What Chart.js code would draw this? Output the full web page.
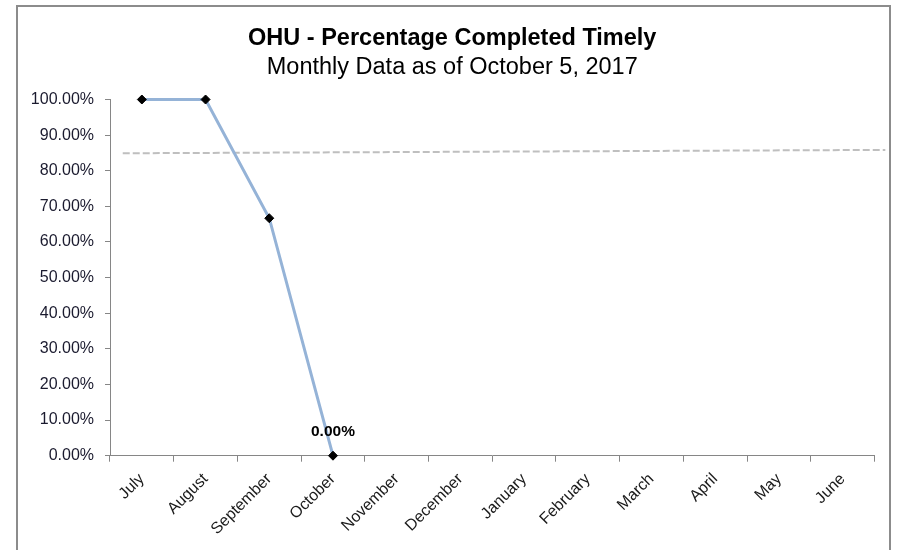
<!DOCTYPE html>
<html>
<head>
<meta charset="utf-8">
<script src="https://cdn.jsdelivr.net/npm/chart.js@4"></script>
<style>
  body { margin: 0; background: #fff; }
  #wrap { position: relative; width: 897px; height: 550px; overflow: hidden; }
  #frame { position: absolute; left: 16px; top: 5px; width: 875px; height: 620px; border: 2px solid #8c8c8c; box-sizing: border-box; }
  #chart { position: absolute; left: 0; top: 0; }
</style>
</head>
<body>
<div id="wrap">
  <div id="frame"></div>
  <canvas id="chart" width="897" height="550"></canvas>
</div>
<script>
// data
const months = ['July', 'August', 'September', 'October', 'November', 'December',
                'January', 'February', 'March', 'April', 'May', 'June'];
const pctTimely = [100, 100, 66.67, 0, null, null, null, null, null, null, null, null];
const dataLabels = ['', '', '', '0.00%', '', '', '', '', '', '', '', ''];

// target line (dashed), x in category units along the axis
const targetX = [0.2, 12.17];
const targetY = [84.9, 85.85];

// labels boven de punten
const pointLabels = {
  id: 'pointLabels',
  afterDatasetsDraw(chart) {
    const ctx = chart.ctx;
    const meta = chart.getDatasetMeta(0);
    ctx.save();
    ctx.font = 'bold 15.5px Arial';
    ctx.fillStyle = '#000';
    ctx.textAlign = 'center';
    ctx.textBaseline = 'middle';
    meta.data.forEach((pt, i) => {
      if (dataLabels[i]) ctx.fillText(dataLabels[i], pt.x, pt.y - 24);
    });
    ctx.restore();
  }
};

new Chart(document.getElementById('chart'), {
  type: 'line',
  data: {
    labels: months,
    datasets: [
      {
        label: 'Percentage Completed Timely',
        data: pctTimely,
        borderColor: '#95b3d7',
        borderWidth: 3,
        tension: 0,
        pointStyle: 'rectRot',
        pointRadius: 4.5,
        pointBackgroundColor: '#000',
        pointBorderColor: '#000',
        pointBorderWidth: 1,
        clip: false
      },
      {
        label: 'Target',
        data: targetX.map((x, i) => ({ x: x, y: targetY[i] })),
        xAxisID: 'xt',
        borderColor: '#bfbfbf',
        borderWidth: 2,
        borderDash: [7, 3],
        pointRadius: 0,
        clip: false
      }
    ]
  },
  options: {
    responsive: false,
    animation: false,
    layout: { padding: { top: 6, left: 30, right: 22.5, bottom: 0 } },
    plugins: {
      legend: { display: false },
      tooltip: { enabled: false },
      title: {
        display: true,
        text: 'OHU - Percentage Completed Timely',
        color: '#000',
        font: { family: 'Arial', size: 23.5, weight: 'bold', lineHeight: 1 },
        padding: { top: 21, bottom: 0 }
      },
      subtitle: {
        display: true,
        text: 'Monthly Data as of October 5, 2017',
        color: '#000',
        font: { family: 'Arial', size: 23.5, weight: 'normal', lineHeight: 1 },
        padding: { top: 5, bottom: 20.5 }
      }
    },
    scales: {
      x: {
        type: 'category',
        offset: true,
        border: { display: true, color: '#868686', width: 1 },
        grid: { offset: true, drawOnChartArea: false, drawTicks: true, tickLength: 6, color: '#868686' },
        ticks: { color: '#1a1a1a', font: { family: 'Arial', size: 16 }, minRotation: 45, maxRotation: 45, padding: 8, autoSkip: false },
        afterFit(scale) { scale.height = 94.3; }
      },
      xt: {
        type: 'linear',
        display: false,
        min: 0,
        max: 12
      },
      y: {
        min: 0,
        max: 100,
        border: { display: true, color: '#868686', width: 1 },
        grid: { drawOnChartArea: false, drawTicks: true, tickLength: 5, color: '#868686' },
        ticks: {
          stepSize: 10,
          color: '#1a1a2e',
          font: { family: 'Arial', size: 16 },
          padding: 11,
          callback: v => v.toFixed(2) + '%'
        },
        afterFit(scale) { scale.width = 80; }
      }
    }
  },
  plugins: [pointLabels]
});
</script>
</body>
</html>
